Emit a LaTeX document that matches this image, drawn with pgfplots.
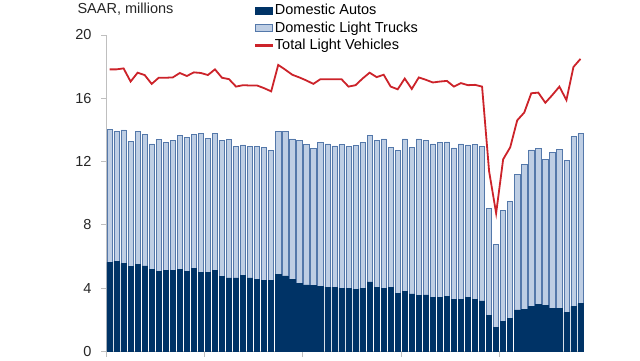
\documentclass[border=0pt]{standalone}
\usepackage{fontspec}
\setmainfont{Liberation Sans}
\usepackage{pgfplots}
\usepackage{pgfplotstable}
\pgfplotsset{compat=1.18}
\definecolor{autoblue}{RGB}{0,51,102}
\definecolor{truckfill}{RGB}{190,206,228}
\definecolor{truckedge}{RGB}{84,120,170}
\definecolor{totred}{RGB}{204,35,42}
\definecolor{axgray}{RGB}{191,191,191}
\pgfplotstableread{
x auto total line
0 5.64 14.02 17.83
1 5.70 13.89 17.83
2 5.55 14.00 17.89
3 5.36 13.27 17.06
4 5.51 13.93 17.62
5 5.41 13.72 17.47
6 5.17 13.12 16.91
7 5.05 13.38 17.30
8 5.11 13.23 17.30
9 5.11 13.34 17.32
10 5.17 13.68 17.60
11 5.05 13.51 17.41
12 5.26 13.72 17.64
13 5.01 13.80 17.60
14 5.01 13.48 17.47
15 5.14 13.76 17.83
16 4.76 13.36 17.30
17 4.65 13.38 17.21
18 4.65 12.97 16.74
19 4.79 13.06 16.83
20 4.65 12.97 16.81
21 4.54 12.97 16.81
22 4.52 12.91 16.64
23 4.48 12.71 16.44
24 4.90 13.93 18.11
25 4.78 13.89 17.81
26 4.54 13.44 17.49
27 4.31 13.32 17.32
28 4.21 13.08 17.13
29 4.16 12.82 16.91
30 4.12 13.23 17.21
31 4.08 13.12 17.21
32 4.08 13.00 17.21
33 4.00 13.08 17.21
34 4.00 12.95 16.74
35 3.94 13.02 16.83
36 4.00 13.21 17.25
37 4.40 13.66 17.62
38 4.04 13.34 17.34
39 4.00 13.44 17.49
40 4.08 12.91 16.74
41 3.68 12.70 16.57
42 3.81 13.44 17.25
43 3.64 12.91 16.59
44 3.56 13.44 17.32
45 3.58 13.34 17.17
46 3.43 13.12 17.00
47 3.43 13.21 17.06
48 3.47 13.25 17.10
49 3.32 12.87 16.74
50 3.32 13.12 16.96
51 3.43 13.06 16.83
52 3.32 13.08 16.85
53 3.20 12.97 16.74
54 2.29 9.05 11.40
55 1.51 6.75 8.74
56 1.91 8.94 12.15
57 2.10 9.49 12.90
58 2.63 11.17 14.61
59 2.67 11.83 15.10
60 2.86 12.74 16.32
61 2.99 12.82 16.36
62 2.92 12.15 15.72
63 2.74 12.56 16.21
64 2.71 12.78 16.74
65 2.48 12.10 15.89
66 2.86 13.58 17.98
67 3.03 13.79 18.49
}\datatable
\begin{document}
\begin{tikzpicture}
\useasboundingbox (0,0) rectangle (640pt,360pt);
\begin{axis}[
  at={(106pt,8.4pt)}, anchor=south west,
  scale only axis, width=478pt, height=316.6pt,
  xmin=-0.5, xmax=67.5, ymin=0, ymax=20,
  axis lines=left,
  axis line style={draw=axgray, line width=1pt, -},
  xtick={-0.5,13.5,27.5,41.5,55.5}, xticklabels={{},{},{},{},{}},
  ytick={0,4,...,20},
  tick align=outside, major tick length=5pt,
  tick style={draw=axgray, line width=1pt},
  yticklabel style={font=\fontsize{14.5}{17}\selectfont, text=black!85, xshift=-6pt},
  /pgf/number format/assume math mode=true,
  legend style={at={(rel axis cs:0.312,1.104)}, anchor=north west, draw=none, fill=none,
    font=\fontsize{14.5}{17}\selectfont, row sep=1.6pt, inner sep=0pt},
  legend cell align=left,
]
\addlegendimage{legend image code/.code={\fill[autoblue] (0pt,-3.5pt) rectangle (17pt,3.5pt);}}
\addlegendentry{Domestic Autos}
\addlegendimage{legend image code/.code={\filldraw[fill=truckfill,draw=truckedge,line width=0.6pt] (0pt,-3.5pt) rectangle (17pt,3.5pt);}}
\addlegendentry{Domestic Light Trucks}
\addlegendimage{legend image code/.code={\fill[totred] (0pt,-0.9pt) rectangle (17pt,0.9pt);}}
\addlegendentry{Total Light Vehicles}
\addplot[ybar, bar width=5.2pt, bar shift=0pt, fill=truckfill, draw=truckedge, line width=0.6pt, forget plot] table[x=x,y=total]{\datatable};
\addplot[ybar, bar width=5.2pt, bar shift=0pt, fill=autoblue, draw=autoblue, line width=0.6pt, forget plot] table[x=x,y=auto]{\datatable};
\addplot[totred, line width=1.8pt, mark=none, forget plot] table[x=x,y=line]{\datatable};
\end{axis}
\node[anchor=base west, font=\fontsize{14.5}{17}\selectfont, text=black!85] at (74pt,346.5pt) {SAAR, millions};
\end{tikzpicture}
\end{document}
